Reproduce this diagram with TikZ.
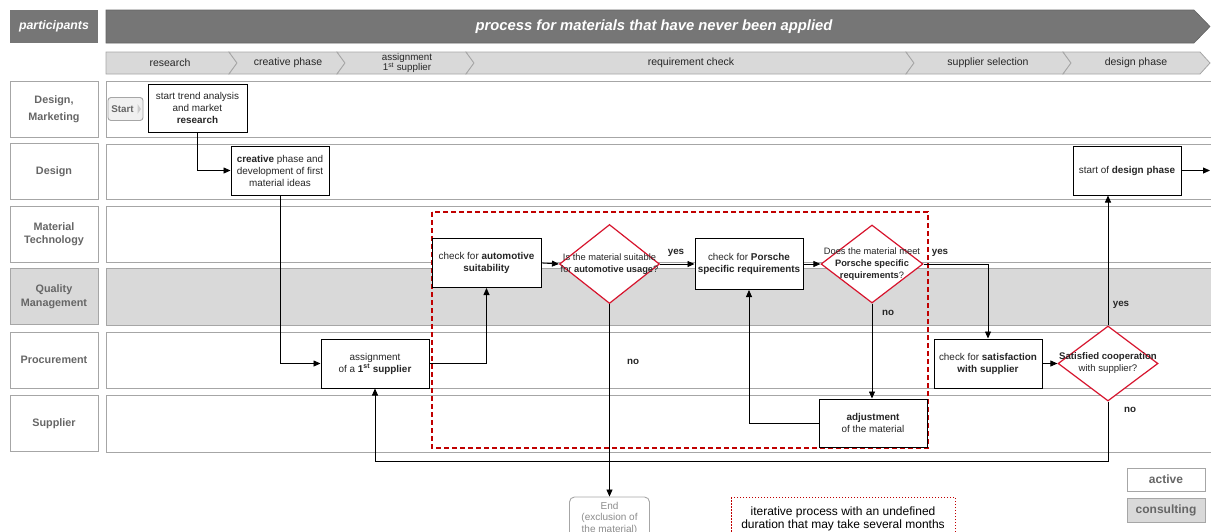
\documentclass[tikz,border=0pt]{standalone}
\usepackage{fontspec}
\setmainfont{Liberation Sans}
\usetikzlibrary{arrows.meta,shapes.geometric}
\definecolor{hdr}{HTML}{767676}
\definecolor{lanegray}{HTML}{D9D9D9}
\definecolor{laneborder}{HTML}{A6A6A6}
\definecolor{labeltext}{HTML}{666666}
\definecolor{pred}{HTML}{D7142D}
\definecolor{dred}{HTML}{C00000}
\definecolor{ntext}{HTML}{262626}
\definecolor{endgray}{HTML}{8C8C8C}
\begin{document}
\begin{tikzpicture}[x=1pt,y=-1pt,
  lanelabel/.style={draw=laneborder,line width=0.8pt,fill=white,minimum width=88pt,minimum height=56pt,align=center,text=labeltext,font=\fontsize{10.8}{13.5}\selectfont\bfseries,inner sep=0pt},
  lanebody/.style={draw=laneborder,line width=0.8pt,fill=white},
  procbox/.style={draw=black,line width=1pt,fill=white,align=center,text=ntext,font=\fontsize{9.9}{12}\selectfont,inner sep=1pt},
  decision/.style={diamond,draw=pred,line width=1.2pt,fill=white,inner sep=0pt},
  dectext/.style={align=center,text=ntext,font=\fontsize{9.3}{12}\selectfont,inner sep=0pt},
  conn/.style={draw=black,line width=0.8pt,-{Triangle[length=7pt,width=6pt]}},
  flowlabel/.style={font=\fontsize{9.8}{11}\selectfont\bfseries,text=ntext,inner sep=0pt},
  phasefill/.style={fill=lanegray,draw=laneborder,line width=0.8pt},
  phasetext/.style={font=\fontsize{10.5}{11}\selectfont,text=ntext,align=center,inner sep=0pt}
]
\useasboundingbox (0,0) rectangle (1211,531);
\clip (0,0) rectangle (1211,531);

% ---- header ----
\node[fill=hdr,minimum width=88pt,minimum height=33pt,inner sep=0pt,text=white,font=\fontsize{12.3}{14}\selectfont\bfseries\itshape] (part) at (54,26.5) {participants};
\filldraw[fill=hdr,draw=hdr!85!black,line width=0.6pt] (106,10) -- (1194,10) -- (1210,26.5) -- (1194,43) -- (106,43) -- cycle;
\node[text=white,font=\fontsize{14.8}{17}\selectfont\bfseries\itshape,inner sep=0pt] (title) at (654,26.5) {process for materials that have never been applied};

% ---- phases ----
\filldraw[phasefill] (106,52) -- (229,52) -- (237,63) -- (229,74) -- (106,74) -- cycle;
\filldraw[phasefill] (229,52) -- (337,52) -- (345,63) -- (337,74) -- (229,74) -- (237,63) -- cycle;
\filldraw[phasefill] (337,52) -- (466,52) -- (474,63) -- (466,74) -- (337,74) -- (345,63) -- cycle;
\filldraw[phasefill] (466,52) -- (906,52) -- (914,63) -- (906,74) -- (466,74) -- (474,63) -- cycle;
\filldraw[phasefill] (906,52) -- (1063,52) -- (1071,63) -- (1063,74) -- (906,74) -- (914,63) -- cycle;
\filldraw[phasefill] (1063,52) -- (1200,52) -- (1210,63) -- (1200,74) -- (1063,74) -- (1071,63) -- cycle;
\node[phasetext] (ph1) at (170,63) {research};
\node[phasetext] (ph2) at (288,63) {creative phase};
\node[phasetext,font=\fontsize{9.8}{10.5}\selectfont] (ph3) at (407,63) {assignment\\1\textsuperscript{st} supplier};
\node[phasetext] (ph4) at (691,63) {requirement check};
\node[phasetext] (ph5) at (988,63) {supplier selection};
\node[phasetext] (ph6) at (1136,63) {design phase};

% ---- lanes ----
\node[lanelabel] (l1) at (54,109) {Design,\\[4pt]Marketing};
\draw[lanebody] (106,81) rectangle (1211,137);
\node[lanelabel] (l2) at (54,171.5) {Design};
\draw[lanebody] (106,144) rectangle (1211,199);
\node[lanelabel] (l3) at (54,234) {Material\\Technology};
\draw[lanebody] (106,206) rectangle (1211,262);
\node[lanelabel,fill=lanegray] (l4) at (54,296.5) {Quality\\Management};
\draw[lanebody,fill=lanegray] (106,268) rectangle (1211,325);
\node[lanelabel] (l5) at (54,360) {Procurement};
\draw[lanebody] (106,332) rectangle (1211,388);
\node[lanelabel] (l6) at (54,423.5) {Supplier};
\draw[lanebody] (106,395) rectangle (1211,452);

% ---- dashed iterative region ----
\draw[dred,line width=1.2pt,dash pattern=on 5pt off 3pt] (432,212) rectangle (928,448);

% ---- start ----
\node[draw=laneborder,line width=0.9pt,fill=white!94!black,rounded corners=3pt,minimum width=35pt,minimum height=23pt,inner sep=0pt] (start) at (125.5,109) {};
\node[text=labeltext,font=\fontsize{9.8}{11}\selectfont\bfseries,inner sep=0pt] (startt) at (122.5,109) {Start};
\fill[white!80!black] (137.5,104) -- (141,109) -- (137.5,114) -- cycle;

% ---- process boxes ----
\node[procbox,minimum width=99pt,minimum height=48pt] (research) at (197.5,108) {start trend analysis\\and market\\\textbf{research}};
\node[procbox,minimum width=98pt,minimum height=49pt] (creative) at (280,170.5) {\textbf{creative} phase and\\development of first\\material ideas};
\node[procbox,minimum width=108pt,minimum height=49pt] (assign) at (375,363.5) {assignment\\of a \textbf{1\textsuperscript{st} supplier}};
\node[procbox,minimum width=109pt,minimum height=49pt] (auto) at (486.5,263) {check for \textbf{automotive}\\\textbf{suitability}};
\node[procbox,minimum width=108pt,minimum height=51pt] (porsche) at (749,264) {check for \textbf{Porsche}\\\textbf{specific requirements}};
\node[procbox,minimum width=108pt,minimum height=48pt] (adjust) at (873,423) {\textbf{adjustment}\\of the material};
\node[procbox,minimum width=108pt,minimum height=49pt] (satis) at (988,363.5) {check for \textbf{satisfaction}\\\textbf{with supplier}};
\node[procbox,minimum width=108pt,minimum height=49pt] (design) at (1127,170.5) {start of \textbf{design phase}};

% ---- decisions ----
\node[decision,minimum width=100pt,minimum height=79pt] (d1) at (609.5,264) {};
\node[dectext] (d1t) at (609.5,264) {Is the material suitable\\for \textbf{automotive usage}?};
\node[decision,minimum width=102pt,minimum height=78pt] (d2) at (872,264) {};
\node[dectext] (d2t) at (872,264) {Does the material meet\\\textbf{Porsche specific}\\\textbf{requirements}?};
\node[decision,minimum width=100pt,minimum height=75pt] (d3) at (1108,363.5) {};
\node[dectext,font=\fontsize{9.6}{12}\selectfont] (d3t) at (1108,363.5) {\textbf{Satisfied cooperation}\\with supplier?};

% ---- end ----
\node[draw=laneborder,line width=0.9pt,fill=white,rounded corners=5pt,minimum width=80pt,minimum height=42pt,inner sep=0pt,align=center,text=endgray,font=\fontsize{10}{11.5}\selectfont] (end) at (609.5,518) {End\\(exclusion of\\the material)};

% ---- connectors ----
\coordinate (exit) at (1210,170.5);
\coordinate (loop) at (1108,461);
\draw[conn] (research.south) |- (creative.west);
\draw[conn] (creative.south) |- (assign.west);
\draw[conn] (assign.east) -| (auto.south);
\draw[conn] (auto.east) -- (d1.west);
\draw[conn] (d1.east) -- (porsche.west);
\draw[conn] (porsche.east) -- (d2.west);
\draw[conn] (d2.east) -| (satis.north);
\draw[conn] (d2.south) -- (d2.south |- adjust.north);
\draw[conn] (adjust.west) -| (porsche.south);
\draw[conn] (d1.south) -- (d1.south |- end.north);
\draw[conn] (satis.east) -- (d3.west);
\draw[conn] (d3.north) -- (d3.north |- design.south);
\draw[conn] (d3.south) -- (loop) -| (assign.south);
\draw[conn] (design.east) -- (exit);

% ---- flow labels ----
\node[flowlabel] (y1) at (676,253) {yes};
\node[flowlabel] (n1) at (633,362) {no};
\node[flowlabel] (y2) at (940,253) {yes};
\node[flowlabel] (n2) at (888,313) {no};
\node[flowlabel] (y3) at (1121,305) {yes};
\node[flowlabel] (n3) at (1130,410) {no};

% ---- legend ----
\draw[dred,line width=0.8pt,dash pattern=on 1.5pt off 1.5pt] (731,497) rectangle (955,545);
\node[align=center,text=black,font=\fontsize{12}{12.5}\selectfont,inner sep=0pt] (iter) at (843,519) {iterative process with an undefined\\duration that may take several months};
\node[draw=laneborder,line width=0.8pt,fill=white,minimum width=78pt,minimum height=23pt,inner sep=0pt,text=labeltext,font=\fontsize{12}{13}\selectfont\bfseries] (active) at (1166,479.5) {active};
\node[draw=laneborder,line width=0.8pt,fill=lanegray,minimum width=78pt,minimum height=24pt,inner sep=0pt,text=labeltext,font=\fontsize{12}{13}\selectfont\bfseries] (consult) at (1166,510) {consulting};
\end{tikzpicture}
\end{document}
